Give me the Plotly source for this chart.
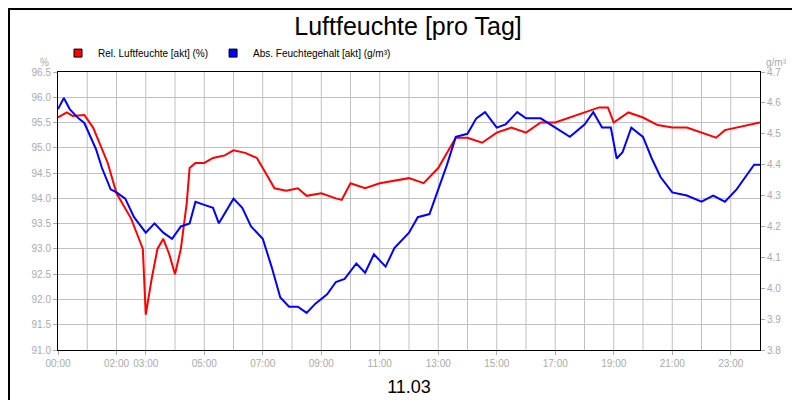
import plotly.graph_objects as go

rel_h = [0,0.3,0.5,0.9,1.2,1.5,1.7,2.0,2.3,2.5,2.7,2.9,3.0,3.2,3.4,3.6,3.8,4.0,4.2,4.4,4.5,4.7,5.0,5.3,5.7,6.0,6.4,6.8,7.1,7.4,7.8,8.2,8.5,9.0,9.5,9.7,10.0,10.5,11.0,11.5,12.0,12.5,13.0,13.3,13.6,14.0,14.5,15.0,15.5,16.0,16.5,17.0,17.5,18.0,18.5,18.8,19.0,19.5,20.0,20.5,21.0,21.5,22.0,22.5,22.8,23.2,23.6,24.0]
rel_v = [95.6,95.7,95.63,95.65,95.4,95.0,94.7,94.1,93.8,93.6,93.3,93.0,91.7,92.4,93.0,93.2,92.9,92.5,93.0,93.9,94.6,94.7,94.7,94.8,94.85,94.95,94.9,94.8,94.5,94.2,94.15,94.2,94.05,94.1,94.0,93.97,94.3,94.2,94.3,94.35,94.4,94.3,94.6,94.9,95.2,95.2,95.1,95.3,95.4,95.3,95.5,95.5,95.6,95.7,95.8,95.8,95.5,95.7,95.6,95.45,95.4,95.4,95.3,95.2,95.35,95.4,95.45,95.5]
abs_h = [0,0.2,0.4,0.7,0.9,1.1,1.3,1.5,1.8,2.0,2.3,2.6,3.0,3.3,3.6,3.9,4.2,4.5,4.7,5.0,5.3,5.5,5.8,6.0,6.3,6.6,7.0,7.3,7.6,7.9,8.2,8.5,8.8,9.2,9.5,9.8,10.2,10.5,10.8,11.2,11.5,12.0,12.3,12.7,13.0,13.3,13.6,14.0,14.3,14.6,15.0,15.3,15.7,16.0,16.5,17.0,17.5,18.0,18.3,18.6,18.9,19.1,19.3,19.6,20.0,20.3,20.6,21.0,21.5,22.0,22.4,22.8,23.2,23.5,23.8,24.0]
abs_v = [4.58,4.616,4.58,4.55,4.535,4.49,4.45,4.39,4.32,4.31,4.29,4.23,4.18,4.21,4.18,4.16,4.2,4.21,4.28,4.27,4.26,4.21,4.26,4.29,4.26,4.2,4.16,4.07,3.97,3.94,3.94,3.92,3.95,3.98,4.02,4.03,4.08,4.05,4.11,4.07,4.13,4.18,4.23,4.24,4.32,4.4,4.49,4.5,4.55,4.57,4.52,4.53,4.57,4.55,4.55,4.52,4.49,4.53,4.57,4.52,4.52,4.42,4.44,4.52,4.49,4.42,4.36,4.31,4.3,4.28,4.3,4.28,4.32,4.36,4.4,4.4]
tick_vals = [0,2,3,5,7,9,11,13,15,17,19,21,23]
tick_text = ["00:00","02:00","03:00","05:00","07:00","09:00","11:00","13:00","15:00","17:00","19:00","21:00","23:00"]
names = ["Rel. Luftfeuchte [akt] (%)", "Abs. Feuchtegehalt [akt] (g/m³)"]
colors = ["#ff0000", "#0000ff"]

fig = go.Figure()
fig.add_trace(go.Scatter(x=rel_h, y=rel_v, mode="lines", line=dict(color=colors[0], width=2),
                         showlegend=False))
fig.add_trace(go.Scatter(x=abs_h, y=abs_v, mode="lines", line=dict(color=colors[1], width=2),
                         showlegend=False, yaxis="y2"))
for n, c in zip(names, colors):
    fig.add_trace(go.Scatter(x=[None], y=[None], mode="markers", name=n,
                             marker=dict(symbol="square", size=8, color=c, line=dict(color="black", width=1))))
gray = "#aaaaaa"
fig.update_layout(
    width=800, height=400, paper_bgcolor="white", plot_bgcolor="white",
    margin=dict(l=50, r=48, t=64, b=58, autoexpand=False),
    font=dict(family="Arial, Liberation Sans", size=11, color=gray),
    title=dict(text="Luftfeuchte [pro Tag]", x=0.5, xanchor="center", y=0.955, yref="container",
               yanchor="middle", font=dict(size=25, color="black")),
    showlegend=True,
    legend=dict(orientation="h", x=0.0, y=1.068, xanchor="left", yanchor="middle",
                font=dict(size=10, color="black"), itemwidth=30, tracegroupgap=0,
                bgcolor="rgba(0,0,0,0)"),
    xaxis=dict(range=[0,24], tickvals=tick_vals, ticktext=tick_text,
               showgrid=False, showline=True, linecolor="black", mirror=True,
               ticks="outside", ticklen=4, tickcolor=gray, tickfont=dict(size=10, color=gray),
               title=dict(text="11.03", font=dict(size=18, color="black"), standoff=12)),
    yaxis=dict(range=[91,96.5], dtick=0.5, tickformat=".1f", gridcolor="#c0c0c0",
               showline=True, linecolor="black", ticks="outside", ticklen=4, tickcolor=gray,
               tickfont=dict(size=10, color=gray), zeroline=False),
    yaxis2=dict(range=[3.8,4.7], dtick=0.1, tickformat=".1f", overlaying="y", side="right",
                showgrid=False, showline=True, linecolor="black", ticks="outside", ticklen=4,
                tickcolor=gray, tickfont=dict(size=10, color=gray), zeroline=False),
)
for h in range(1, 24):
    fig.add_vline(x=h, line=dict(color="#c0c0c0", width=1), layer="below")
fig.add_annotation(text="%", xref="paper", yref="paper", x=-0.01, y=1.062, showarrow=False,
                   xanchor="right", font=dict(size=10, color=gray))
fig.add_annotation(text="g/m³", xref="paper", yref="paper", x=1.005, y=1.062, showarrow=False,
                   xanchor="left", font=dict(size=10, color=gray))
fig.add_shape(type="rect", xref="paper", yref="paper", x0=-0.0698, x1=1.067, y0=-0.205, y1=1.227,
              line=dict(color="black", width=2))
fig.write_html("out.html")
